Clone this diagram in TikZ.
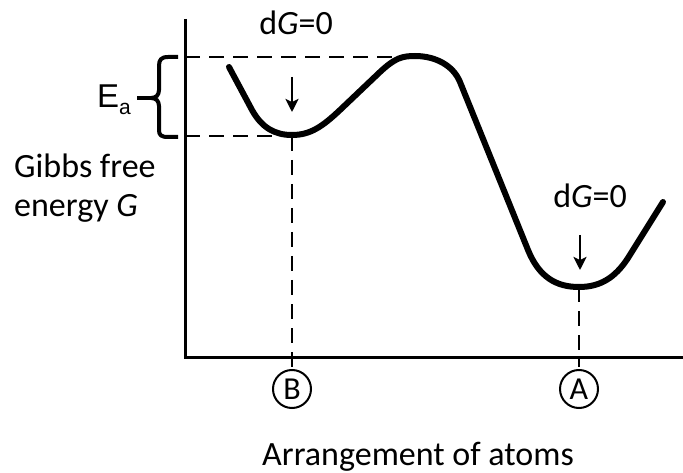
\documentclass[tikz,border=0pt]{standalone}
\usepackage{fontspec}
\setmainfont{Carlito}
\newfontfamily\arialfont{Liberation Sans}
\usetikzlibrary{arrows.meta}
\begin{document}
\begin{tikzpicture}[x=1pt,y=-1pt,
  axisline/.style={line width=3pt},
  curveline/.style={line width=6pt,line cap=round,line join=round},
  guide/.style={line width=2.5pt,dash pattern=on 15pt off 9pt},
  pointer/.style={line width=2.5pt,-{Stealth[length=13pt,width=13pt,inset=3pt]}},
  lbl/.style={font=\fontsize{34}{40}\selectfont,inner sep=0pt},
  circled/.style={circle,draw,line width=2pt,minimum size=38pt,inner sep=0pt,font=\fontsize{32}{36}\selectfont}]
\useasboundingbox (0,0) rectangle (683,473);
% axes
\coordinate (ytop) at (185,19);
\coordinate (orig) at (185,357);
\coordinate (xend) at (683,357);
\draw[axisline] (ytop) -- (orig) -- (xend);
% key points
\coordinate (minB) at (292,135);
\coordinate (minA) at (579,287);
\coordinate (peak) at (398,57);
\coordinate (topL) at (185,57);
\coordinate (botL) at (185,136);
\coordinate (botB) at (292,136);
% dashed guides
\draw[guide] (topL) -- (peak);
\draw[guide] (botL) -- (botB);
\node[circled] (B) at (292,389) {B};
\node[circled] (A) at (579,389) {A};
\coordinate (tickB) at (292,367);
\coordinate (tickA) at (579,367);
\draw[guide] (botB) -- (tickB);
\draw[guide] (minA) -- (tickA);
% energy curve
\draw[curveline] (229,67) -- (252,110) .. controls (262,128) and (275,135) .. (minB)
  .. controls (310,135) and (322,127) .. (340,110) -- (380,72)
  .. controls (395,58) and (402,56) .. (415,56)
  .. controls (435,56) and (453,65) .. (460,82) -- (528,250)
  .. controls (539,277) and (556,287) .. (minA)
  .. controls (600,287) and (615,278) .. (628,258) -- (663,202);
% arrows
\coordinate (aBs) at (292,77);
\coordinate (aBe) at (292,112);
\coordinate (aAs) at (580,235);
\coordinate (aAe) at (580,270);
\draw[pointer] (aBs) -- (aBe);
\draw[pointer] (aAs) -- (aAe);
% dG labels
\node[lbl,anchor=base] (dG1) at (296,35) {d\textit{G}=0};
\node[lbl,anchor=base] (dG2) at (590,208) {d\textit{G}=0};
% brace
\draw[line width=4pt,line join=round] (178,57) -- (168,57) .. controls (161,57) and (159,60) .. (159,66)
  -- (159,90) .. controls (159,95) and (156,98) .. (151,98)
  .. controls (156,98) and (159,101) .. (159,106) -- (159,130)
  .. controls (159,135) and (161,137) .. (168,137) -- (178,137);
\coordinate (braceTip) at (151,98);
\node[inner sep=0pt,anchor=base east,font=\arialfont\fontsize{33}{40}\selectfont] (Ea) at (131,108) {E\raisebox{-7pt}{\fontsize{21}{24}\selectfont a}};
\coordinate (stub) at (137,98);
\draw[line width=4pt] (stub) -- (braceTip);
% y label
\node[lbl,anchor=base west] (g1) at (14,178) {Gibbs free};
\node[lbl,anchor=base west] (g2) at (14,217) {energy \textit{G}};
% x label
\node[lbl,anchor=base] (xl) at (418,465) {Arrangement of atoms};
\end{tikzpicture}
\end{document}
